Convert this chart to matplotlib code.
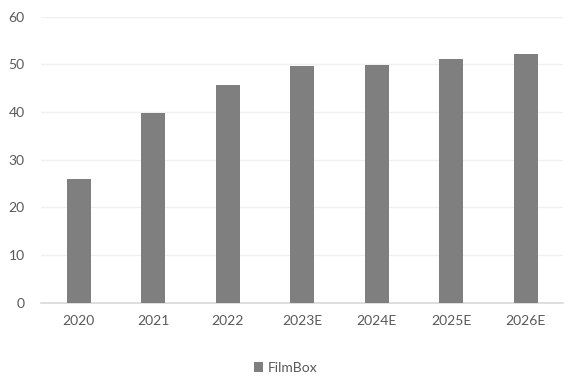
import matplotlib
matplotlib.use("Agg")
import matplotlib.pyplot as plt
import numpy as np

# chart data
years = ["2020", "2021", "2022", "2023E", "2024E", "2025E", "2026E"]
filmbox = [25.9, 39.8, 45.7, 49.6, 49.9, 51.2, 52.2]
y_ticks = [0, 10, 20, 30, 40, 50, 60]

plt.rcParams['font.family'] = ['Lato', 'DejaVu Sans']
text_color = '#595959'

fig = plt.figure(figsize=(5.71, 3.76), dpi=100)
ax = fig.add_axes([0.0725, 0.195, 0.9135, 0.761])

x = np.arange(len(years))
ax.bar(x, filmbox, width=0.32, color='#7f7f7f', label='FilmBox', zorder=3)

ax.set_xlim(-0.5, len(years) - 0.5)
ax.set_ylim(0, 60)
ax.set_yticks(y_ticks)
ax.set_xticks(x)
ax.set_xticklabels(years)
ax.grid(axis='y', color='#f0f0f0', linewidth=1, zorder=0)

for side in ['top', 'right', 'left']:
    ax.spines[side].set_visible(False)
ax.spines['bottom'].set_color('#d9d9d9')
ax.spines['bottom'].set_linewidth(1.2)

ax.tick_params(axis='both', length=0, labelsize=10, colors=text_color)
ax.tick_params(axis='x', pad=9)
ax.tick_params(axis='y', pad=12)

# legend sits at the very bottom of the figure
fig.legend(loc='lower center', bbox_to_anchor=(0.5, -0.027), ncol=1, frameon=False,
           fontsize=10, labelcolor=text_color, handlelength=0.7, handleheight=0.7,
           handletextpad=0.3)

fig.savefig('out.png', dpi=100)
